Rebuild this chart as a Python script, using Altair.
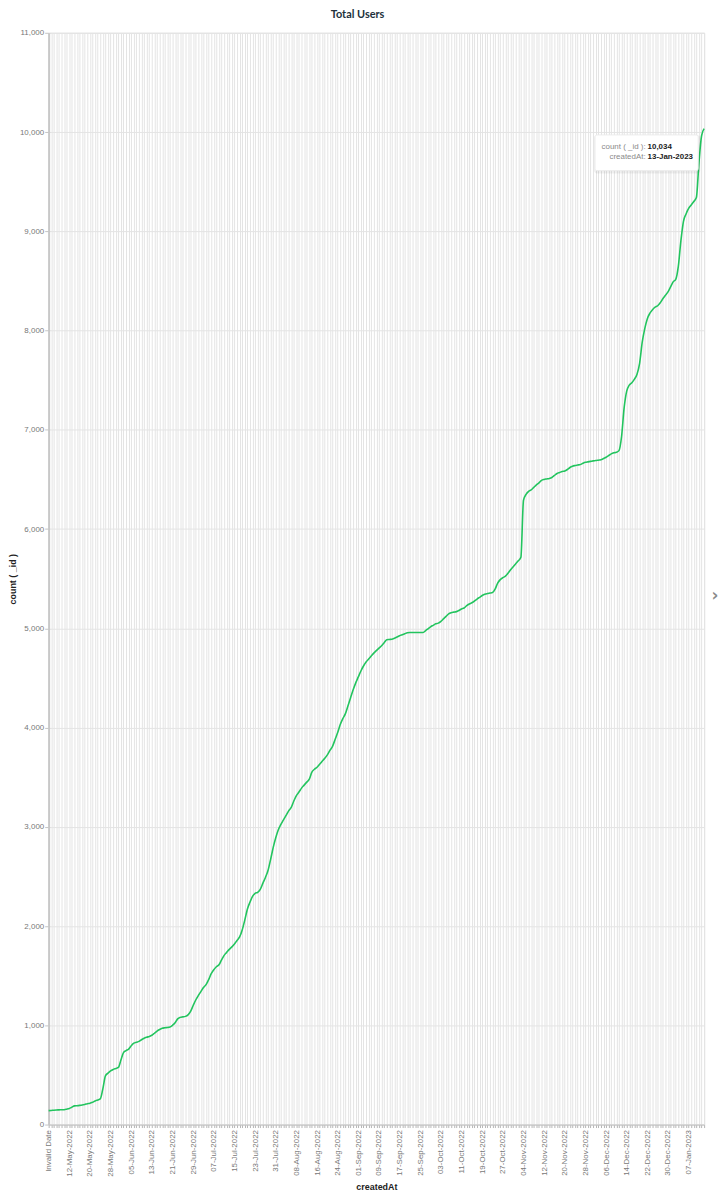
import altair as alt
import pandas as pd
import datetime as dt

# ---- data -------------------------------------------------------------
first_day = dt.date(2022, 5, 5)
day_labels = [(first_day + dt.timedelta(days=k)).strftime("%d-%b-%Y") for k in range(254)]
categories = ["Invalid Date"] + day_labels

values = [
    140, 142, 145, 147, 148, 149, 150, 155, 162, 175,
    188, 190, 193, 197, 203, 210, 215, 225, 238, 248,
    258, 360, 490, 518, 540, 555, 565, 575, 650, 725,
    745, 760, 795, 820, 830, 838, 855, 870, 880, 888,
    900, 920, 942, 958, 970, 975, 978, 982, 1000, 1025,
    1065, 1080, 1085, 1090, 1105, 1140, 1200, 1255, 1300, 1340,
    1380, 1410, 1460, 1520, 1560, 1590, 1610, 1660, 1705, 1735,
    1765, 1790, 1820, 1855, 1890, 1960, 2060, 2170, 2240, 2300,
    2330, 2340, 2370, 2430, 2490, 2560, 2670, 2790, 2890, 2970,
    3025, 3070, 3115, 3160, 3195, 3260, 3315, 3350, 3390, 3420,
    3450, 3480, 3550, 3580, 3600, 3630, 3660, 3690, 3725, 3770,
    3810, 3880, 3950, 4030, 4090, 4140, 4220, 4300, 4380, 4450,
    4510, 4570, 4620, 4660, 4690, 4720, 4750, 4775, 4800, 4825,
    4855, 4885, 4888, 4890, 4900, 4912, 4925, 4935, 4945, 4955,
    4957, 4957, 4957, 4957, 4957, 4957, 4975, 4995, 5015, 5030,
    5045, 5052, 5070, 5095, 5120, 5145, 5157, 5163, 5168, 5180,
    5195, 5205, 5228, 5245, 5257, 5275, 5295, 5312, 5330, 5343,
    5350, 5355, 5360, 5395, 5455, 5490, 5510, 5525, 5555, 5590,
    5620, 5650, 5680, 5715, 6290, 6350, 6380, 6395, 6420, 6445,
    6465, 6490, 6500, 6505, 6510, 6520, 6540, 6560, 6570, 6580,
    6585, 6600, 6620, 6633, 6640, 6645, 6650, 6662, 6672, 6677,
    6682, 6687, 6690, 6694, 6698, 6710, 6723, 6740, 6757, 6768,
    6773, 6790, 6930, 7220, 7390, 7450, 7475, 7510, 7560, 7670,
    7880, 8020, 8120, 8175, 8210, 8235, 8250, 8280, 8320, 8355,
    8390, 8440, 8490, 8515, 8646, 8904, 9100, 9175, 9230, 9265,
    9300, 9340, 9690, 9960, 10034,
]

shown_labels = categories[::8]
y_ticks = list(range(0, 11001, 1000))

df = pd.DataFrame({"createdAt": categories, "count": values})

W, H = 661, 1101
LABEL_FONT = "Liberation Sans"

label_list = ",".join("'" + s + "'" for s in shown_labels)
label_expr = f"indexof([{label_list}], datum.value) >= 0 ? datum.label : ''"

line = alt.Chart(df).mark_line(
    color="#22C45E", strokeWidth=1.6, interpolate="monotone"
).encode(
    x=alt.X(
        "createdAt:O",
        sort=categories,
        scale=alt.Scale(padding=0),
        axis=alt.Axis(
            title="createdAt",
            labelAngle=-90,
            labelExpr=label_expr,
            labelOverlap=False,
            labelBound=False,
            labelFont=LABEL_FONT,
            labelFontSize=8,
            labelColor="#777777",
            labelPadding=2,
            grid=True,
            gridColor="#e4e4e4",
            gridWidth=1,
            tickSize=3,
            tickColor="#b5b5b5",
            domainColor="#c4c4c4",
            domainWidth=1,
            titleFont=LABEL_FONT,
            titleFontSize=9,
            titleFontWeight="bold",
            titleColor="#222222",
            titlePadding=6,
        ),
    ),
    y=alt.Y(
        "count:Q",
        scale=alt.Scale(domain=[0, 11000], nice=False),
        axis=alt.Axis(
            title="count ( _id )",
            values=y_ticks,
            format=",.0f",
            labelFont=LABEL_FONT,
            labelFontSize=8,
            labelColor="#777777",
            labelPadding=1,
            tickSize=4,
            tickColor="#c4c4c4",
            grid=True,
            gridColor="#e4e4e4",
            domainColor="#c8c8c8",
            domainWidth=2,
            titleFont=LABEL_FONT,
            titleFontSize=9,
            titleFontWeight="bold",
            titleColor="#222222",
            titleX=-31,
        ),
    ),
)

# ---- hover tooltip box (as seen in the screenshot) -------------------
tip_df = pd.DataFrame({"k": [0]})
bx0, bx1, by0, by1 = 551, 655, 103, 139

shadow = alt.Chart(tip_df).mark_rect(color="#000000", opacity=0.06, cornerRadius=3).encode(
    x=alt.value(bx0 - 1), x2=alt.value(bx1 + 2), y=alt.value(by0), y2=alt.value(by1 + 3)
)
box = alt.Chart(tip_df).mark_rect(color="#ffffff", stroke="#ececec", strokeWidth=1, cornerRadius=2).encode(
    x=alt.value(bx0), x2=alt.value(bx1), y=alt.value(by0), y2=alt.value(by1)
)

tip_rows = [("count ( _id ):", f"{values[-1]:,}", 115), ("createdAt:", categories[-1], 125)]
tip_layers = []
for key, val, ypos in tip_rows:
    tdf = pd.DataFrame({"key": [key], "val": [val]})
    tip_layers.append(
        alt.Chart(tdf).mark_text(
            align="right", baseline="middle", font=LABEL_FONT, fontSize=8, color="#8a8a8a"
        ).encode(x=alt.value(602), y=alt.value(ypos), text="key:N")
    )
    tip_layers.append(
        alt.Chart(tdf).mark_text(
            align="left", baseline="middle", font=LABEL_FONT, fontSize=8,
            fontWeight="bold", color="#222222"
        ).encode(x=alt.value(604), y=alt.value(ypos), text="val:N")
    )

chev_df = pd.DataFrame({"c": ["›"]})
chevron = alt.Chart(chev_df).mark_text(
    align="center", baseline="middle", font="DejaVu Sans", fontSize=17,
    fontWeight="bold", color="#8a8a8a"
).encode(x=alt.value(W + 11), y=alt.value(568), text="c:N")

chart = alt.layer(line, shadow, box, *tip_layers, chevron).properties(
    width=W,
    height=H,
    title=alt.TitleParams(
        "Total Users",
        font="Lato",
        fontSize=11,
        fontWeight="bold",
        color="#21313C",
        anchor="middle",
        dx=-19,
        offset=9,
    ),
    autosize=alt.AutoSizeParams(type="none"),
    padding={"left": 41, "top": 20, "right": 14, "bottom": 62},
).configure_view(stroke=None).configure(background="#ffffff")

chart.save("out.html", embed_options={"renderer": "svg", "actions": False})
